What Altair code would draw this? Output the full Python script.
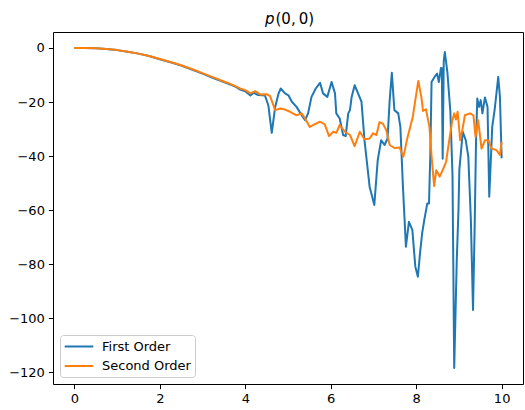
import altair as alt
import pandas as pd

# First-order solution p(0,0) versus time
first_x = [0.0, 0.25, 0.5, 0.75, 1.0, 1.25, 1.5, 1.75, 2.0, 2.25, 2.5, 2.75, 3.0, 3.25,
           3.5, 3.65, 3.8, 3.88, 4.0, 4.12, 4.2, 4.3, 4.4, 4.46, 4.54, 4.62, 4.70, 4.78,
           4.83, 4.93, 5.01, 5.09, 5.20, 5.32, 5.40, 5.47, 5.55, 5.65, 5.75, 5.82, 5.92,
           6.02, 6.10, 6.13, 6.21, 6.29, 6.35, 6.41, 6.45, 6.49, 6.56, 6.64, 6.72, 6.79,
           6.91, 7.02, 7.10, 7.18, 7.26, 7.33, 7.38, 7.43, 7.49, 7.58, 7.63, 7.69, 7.76,
           7.83, 7.91, 7.98, 8.04, 8.09, 8.14, 8.19, 8.26, 8.30, 8.33, 8.36, 8.43, 8.49,
           8.53, 8.58, 8.60, 8.62, 8.645, 8.67, 8.73, 8.80, 8.85, 8.89, 8.95, 8.99, 9.01,
           9.09, 9.16, 9.22, 9.28, 9.33, 9.37, 9.40, 9.43, 9.47, 9.51, 9.55, 9.61, 9.67,
           9.71, 9.78, 9.84, 9.92, 9.96, 10.0]
first_y = [0.0, 0.0, -0.1, -0.35, -0.8, -1.4, -2.1, -3.0, -4.2, -5.3, -6.5, -8.0, -9.5, -11.1,
           -12.6, -13.5, -14.6, -15.4, -16.0, -17.6, -16.6, -17.4, -17.5, -17.6, -21.2, -31.4, -21.8, -16.8,
           -15.0, -16.8, -17.5, -19.9, -21.8, -24.9, -26.7, -24.2, -18.1, -15.0, -12.9, -16.8, -18.1,
           -12.6, -16.8, -24.2, -26.1, -32.2, -32.6, -24.2, -23.0, -18.1, -13.8, -16.8, -19.9, -34.1,
           -51.3, -58.1, -41.5, -34.1, -35.9, -33.5, -19.3, -9.2, -23.0, -24.2, -29.2, -51.3, -73.5,
           -64.3, -67.3, -80.9, -84.6, -75.9, -68.5, -63.6, -57.5, -57.5, -40.0, -12.6, -10.7, -9.5,
           -12.6, -7.4, -7.5, -41.0, -5.0, -1.5, -8.9, -23.6, -47.0, -118.4, -78.4, -59.9, -45.2,
           -31.0, -34.1, -40.2, -63.6, -96.9, -65.0, -35.0, -18.7, -21.8, -19.3, -24.2, -18.3, -21.8,
           -55.0, -29.2, -22.4, -10.7, -18.1, -40.8]

# Second-order solution p(0,0) versus time
second_x = [0.0, 0.25, 0.5, 0.75, 1.0, 1.25, 1.5, 1.75, 2.0, 2.25, 2.5, 2.75, 3.0, 3.25,
            3.5, 3.65, 3.8, 3.88, 4.0, 4.12, 4.23, 4.35, 4.5, 4.58, 4.70, 4.82, 4.93, 5.05,
            5.2, 5.32, 5.40, 5.51, 5.63, 5.75, 5.86, 5.96, 6.06, 6.13, 6.21, 6.33, 6.45,
            6.56, 6.68, 6.79, 6.91, 6.99, 7.07, 7.14, 7.22, 7.30, 7.38, 7.49, 7.61, 7.70,
            7.80, 7.92, 7.98, 8.05, 8.12, 8.16, 8.23, 8.31, 8.36, 8.42, 8.47, 8.55, 8.62,
            8.70, 8.78, 8.84, 8.89, 8.93, 8.97, 9.03, 9.08, 9.14, 9.26, 9.34, 9.39, 9.45,
            9.53, 9.61, 9.69, 9.76, 9.88, 9.96, 10.0]
second_y = [0.0, 0.0, -0.1, -0.35, -0.8, -1.4, -2.1, -3.0, -4.1, -5.2, -6.4, -7.8, -9.3, -10.9,
            -12.4, -13.3, -14.4, -15.0, -15.6, -16.8, -16.0, -17.2, -17.1, -17.8, -23.0, -22.4, -22.8, -23.6,
            -24.9, -24.2, -26.1, -29.2, -28.2, -27.3, -28.3, -32.6, -31.0, -31.4, -28.5, -31.0, -32.2,
            -36.3, -31.0, -33.8, -33.5, -31.6, -32.2, -27.5, -28.0, -30.4, -35.9, -37.0, -36.8, -40.2,
            -32.9, -25.5, -19.3, -12.2, -18.1, -23.3, -22.7, -29.2, -40.0, -51.1, -45.2, -47.6, -45.2,
            -42.1, -33.5, -27.3, -24.2, -26.5, -23.6, -34.1, -30.4, -24.9, -24.2, -24.9, -32.9, -26.7,
            -37.2, -34.1, -34.1, -37.2, -37.8, -39.6, -34.7]

series_names = ["First Order", "Second Order"]
series_colors = ["#1f77b4", "#ff7f0e"]
x_ticks = [0, 2, 4, 6, 8, 10]
y_ticks = [0, -20, -40, -60, -80, -100, -120]

data = pd.concat([
    pd.DataFrame({"t": first_x, "p": first_y, "series": series_names[0]}),
    pd.DataFrame({"t": second_x, "p": second_y, "series": series_names[1]}),
], ignore_index=True)

FONT = "DejaVu Sans"

# Legend swatch: a horizontal dash longer than the row height
SWATCH = "M-2.2,0H2.2"

lines = alt.Chart(data).mark_line(strokeWidth=2, strokeJoin="round").encode(
    x=alt.X("t:Q", scale=alt.Scale(domain=[-0.5, 10.5], nice=False, zero=False),
            axis=alt.Axis(values=x_ticks, title=None, format="d")),
    y=alt.Y("p:Q", scale=alt.Scale(domain=[-124.3, 5.9], nice=False, zero=False),
            axis=alt.Axis(values=y_ticks, title=None, format="d")),
    color=alt.Color("series:N",
                    scale=alt.Scale(domain=series_names, range=series_colors),
                    legend=alt.Legend(title=None, orient="none", legendX=7, legendY=303,
                                      symbolType=SWATCH, symbolSize=169,
                                      symbolStrokeWidth=2, symbolOffset=7.5,
                                      labelOffset=15.5,
                                      rowPadding=4.5, padding=4,
                                      fillColor="white", strokeColor="#cccccc",
                                      cornerRadius=3)),
)

# Plot title: italic "p" followed by upright "(0, 0)"
title_p = alt.Chart(pd.DataFrame({"s": ["p"]})).mark_text(
    font=FONT, fontSize=15, fontStyle="italic", align="right", baseline="alphabetic",
    color="black",
).encode(text="s:N", x=alt.value(221.5), y=alt.value(-8))

title_args = alt.Chart(pd.DataFrame({"s": ["(0,\u20090)"]})).mark_text(
    font=FONT, fontSize=15, align="left", baseline="alphabetic", color="black",
).encode(text="s:N", x=alt.value(222.5), y=alt.value(-8))

chart = alt.layer(lines, title_p, title_args).properties(
    width=470, height=352,
    autosize=alt.AutoSizeParams(type="none"),
    padding={"left": 53, "top": 32, "right": 2, "bottom": 26},
).configure_view(
    stroke="black", strokeWidth=1,
).configure_axis(
    grid=False, domain=False,
    tickColor="black", tickSize=4.6, tickWidth=1,
    labelFont=FONT, labelFontSize=13, labelColor="black", labelPadding=4,
).configure_legend(
    labelFont=FONT, labelFontSize=13, labelColor="black",
)

chart.save("out.html", embed_options={"renderer": "svg", "actions": False})
